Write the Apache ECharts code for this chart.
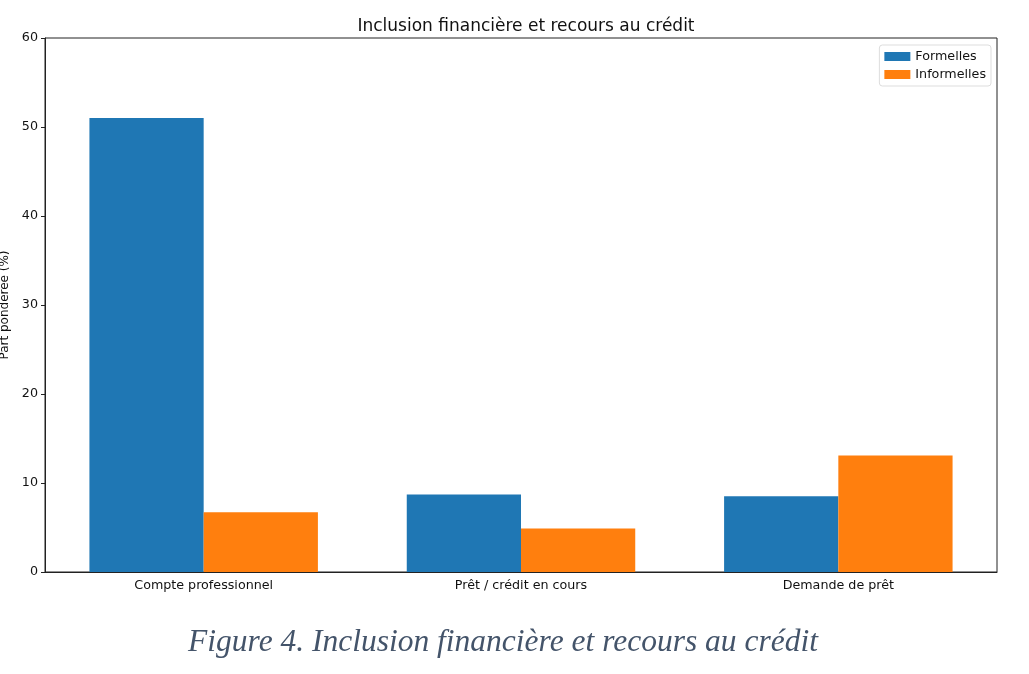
<!DOCTYPE html>
<html>
<head>
<meta charset="UTF-8">
<title>Inclusion financière</title>
<script src="https://cdn.jsdelivr.net/npm/echarts@6/dist/echarts.min.js"></script>
<style>
  body { margin: 0; background: #fff; }
  #chart { width: 1029px; height: 674px; }
</style>
</head>
<body>
<div id="chart"></div>
<script>
var categories = ["Compte professionnel", "Prêt / crédit en cours", "Demande de prêt"];
var formelles = [51.0, 8.7, 8.5];
var informelles = [6.7, 4.9, 13.1];
var yTicks = { min: 0, max: 60, interval: 10 };

var chart = echarts.init(document.getElementById("chart"));
var font = "DejaVu Sans";
var fs = 12.7;

chart.setOption({
    animation: false,
    backgroundColor: "#fff",
    title: [{
        text: "Inclusion financière et recours au crédit",
        left: 521, top: 13, textAlign: "center",
        textStyle: { fontFamily: font, fontSize: 17, fontWeight: "normal", color: "#111" }
    }, {
        text: "Figure 4. Inclusion financière et recours au crédit",
        left: 498, top: 622, textAlign: "center",
        textStyle: { fontFamily: "Liberation Serif", fontStyle: "italic", fontSize: 31.5, fontWeight: "normal", color: "#44546a" }
    }],
    legend: {
        orient: "vertical",
        right: 38, top: 45,
        itemWidth: 26, itemHeight: 9, itemGap: 5,
        padding: [5, 5, 5, 5],
        borderColor: "#ddd", borderWidth: 1, borderRadius: 3,
        icon: "rect",
        textStyle: { fontFamily: font, fontSize: fs, color: "#111" },
        data: ["Formelles", "Informelles"]
    },
    grid: {
        left: 45, right: 32, top: 38, bottom: 102,
        outerBoundsMode: "none",
        show: true, borderColor: "#222", borderWidth: 1
    },
    xAxis: {
        type: "category",
        data: categories,
        axisLine: { lineStyle: { color: "#222" } },
        axisTick: { alignWithLabel: true, length: 4, lineStyle: { color: "#222" } },
        axisLabel: { fontFamily: font, fontSize: fs, color: "#111", margin: 7 }
    },
    yAxis: {
        type: "value",
        min: yTicks.min, max: yTicks.max, interval: yTicks.interval,
        name: "Part pondérée (%)",
        nameLocation: "middle", nameGap: 32,
        nameTextStyle: { fontFamily: font, fontSize: 12, color: "#111" },
        splitLine: { show: false },
        axisLine: { show: true, lineStyle: { color: "#222" } },
        axisTick: { show: true, length: 4, lineStyle: { color: "#222" } },
        axisLabel: { fontFamily: font, fontSize: fs, color: "#111", margin: 7 }
    },
    series: [{
        name: "Formelles", type: "bar",
        data: formelles,
        barWidth: "36%", barGap: "0%",
        itemStyle: { color: "#1f77b4" }
    }, {
        name: "Informelles", type: "bar",
        data: informelles,
        barWidth: "36%", barGap: "0%",
        itemStyle: { color: "#ff7f0e" }
    }]
});
</script>
</body>
</html>
